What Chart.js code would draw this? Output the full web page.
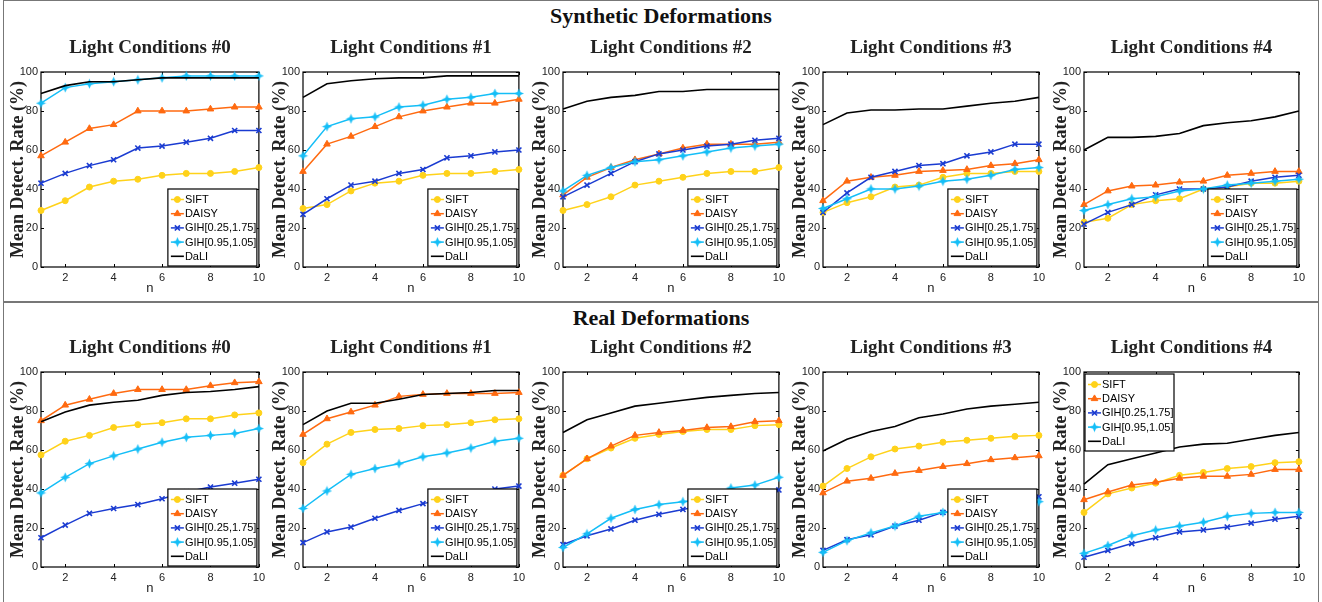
<!DOCTYPE html>
<html>
<head>
<meta charset="utf-8">
<title>Mean detection rate</title>
<script src="https://cdn.jsdelivr.net/npm/chart.js@4.4.1/dist/chart.umd.min.js"></script>
<style>
  body { margin: 0; background: #fff; }
  #page { position: relative; width: 1322px; height: 602px; overflow: hidden; }
  .frame { position: absolute; left: 3px; width: 1316px; border: 1.5px solid #777; box-sizing: border-box; }
  .section { position: absolute; left: 0; width: 1322px; text-align: center;
             font: bold 22px "Liberation Serif", "Times New Roman", serif; color: #111; }
  .panel { position: absolute; }
</style>
</head>
<body>
<div id="page">
  <div class="frame" style="top:0; height:303px; border-bottom-width:2px"></div>
  <div class="frame" style="top:301px; height:304px; border-top:none"></div>
  <div class="section" style="top:3px">Synthetic Deformations</div>
  <div class="section" style="top:305px">Real Deformations</div>
</div>
<script>
// x values and axis ticks
const nValues = [1, 2, 3, 4, 5, 6, 7, 8, 9, 10];
const xTicks = [2, 4, 6, 8, 10];
const yTicks = [0, 20, 40, 60, 80, 100];
const lightTitles = ['Light Conditions #0', 'Light Conditions #1', 'Light Conditions #2',
                     'Light Conditions #3', 'Light Conditions #4'];
const seriesNames = ['SIFT', 'DAISY', 'GIH[0.25,1.75]', 'GIH[0.95,1.05]', 'DaLI'];

// synthetic deformations, one row per light condition
const synSIFT = [
  [29, 34, 41, 44, 45, 47, 48, 48, 49, 51],
  [30, 32, 39, 43, 44, 47, 48, 48, 49, 50],
  [29, 32, 36, 42, 44, 46, 48, 49, 49, 51],
  [28, 33, 36, 41, 42, 46, 48, 48, 49, 49],
  [23, 25, 32, 34, 35, 40, 41, 43, 43, 44]
];
const synDAISY = [
  [57, 64, 71, 73, 80, 80, 80, 81, 82, 82],
  [49, 63, 67, 72, 77, 80, 82, 84, 84, 86],
  [37, 46, 51, 55, 58, 61, 63, 63, 63, 64],
  [34, 44, 46, 47, 49, 49.5, 50, 52, 53, 55],
  [32, 39, 41.5, 42, 43.5, 44, 47, 48, 49, 49]
];
const synGIHwide = [
  [43, 48, 52, 55, 61, 62, 64, 66, 70, 70],
  [27, 35, 42, 44, 48, 50, 56, 57, 59, 60],
  [36, 42, 48, 54, 58, 60, 62, 63, 65, 66],
  [28, 38, 46, 49, 52, 53, 57, 59, 63, 63],
  [22, 28, 32, 37, 40, 40, 41, 44, 46, 47]
];
const synGIHnarrow = [
  [84, 92, 94, 95, 96, 97, 98, 98, 98, 98],
  [57, 72, 76, 77, 82, 83, 86, 87, 89, 89],
  [39, 47, 51, 54, 55, 57, 59, 61, 62, 63],
  [30, 35, 40, 40, 41.5, 44, 45, 47, 50, 51],
  [29, 32, 35, 36, 39, 40, 42, 43, 44, 45]
];
const synDaLI = [
  [89, 93, 95, 95, 96, 97, 97, 97, 97, 97],
  [87, 94, 95.5, 96.5, 97, 97, 98, 98, 98, 98],
  [81, 85, 87, 88, 90, 90, 91, 91, 91, 91],
  [73, 79, 80.5, 80.5, 81, 81, 82.5, 84, 85, 87],
  [60, 66.5, 66.5, 67, 68.5, 72.5, 74, 75, 77, 80]
];

// real deformations
const realSIFT = [
  [57.5, 64.5, 67.5, 71.5, 73, 74, 76, 76, 78, 79],
  [53.5, 63, 69, 70.5, 71, 72.5, 73, 74, 75.5, 76],
  [47, 55.5, 61, 66, 68, 69.5, 70.5, 70.5, 72.5, 73],
  [41.5, 50.5, 56.5, 60.5, 62, 64, 65, 66, 67, 67.5],
  [28, 37.5, 40.5, 43, 47, 48.5, 50.5, 51.5, 53.5, 54]
];
const realDAISY = [
  [75, 83, 86, 89, 91, 91, 91, 93, 94.5, 95],
  [68, 76, 79.5, 83, 87.5, 88.5, 89, 89, 89, 89.5],
  [47, 55.5, 62, 67.5, 69, 70, 71.5, 72, 74.5, 75],
  [38, 44, 45.5, 48, 49.5, 51.5, 53, 55, 56, 57],
  [34.5, 38.5, 42, 43.5, 45.5, 46.5, 46.5, 47.5, 50, 50]
];
const realGIHwide = [
  [15, 21.5, 27.5, 30, 32, 35, 38.5, 41, 43, 45],
  [12.5, 18, 20.5, 25, 29, 32.5, 35, 37, 40, 41.5],
  [11.5, 16, 19.5, 24, 27, 29.5, 32, 35, 37, 39.5],
  [8.5, 14, 16.5, 21, 24, 28, 29, 31, 33, 36],
  [5, 8.5, 12, 15, 18, 19, 20.5, 22.5, 24.5, 26]
];
const realGIHnarrow = [
  [38, 46, 53, 57, 60.5, 64, 66.5, 67.5, 68.5, 71],
  [30, 39, 47.5, 50.5, 53, 56.5, 58.5, 61, 64.5, 66],
  [10, 17, 25, 29.5, 32, 33.5, 35, 40.5, 42, 46],
  [7.5, 13.5, 17.5, 21, 26, 28, 29, 31, 33, 33.5],
  [7, 11, 16, 19, 21, 23, 26, 27.5, 28, 28]
];
const realDaLI = [
  [74.5, 79.5, 83, 84.5, 85.5, 88, 89.5, 90, 91, 92.5],
  [73, 80, 84, 84, 86, 88.5, 89, 89.5, 90.5, 90.5],
  [69, 75.5, 79, 82.5, 84, 85.5, 87, 88, 89, 89.5],
  [59.5, 65.5, 69.5, 72, 76.5, 78.5, 81, 82.5, 83.5, 84.5],
  [42.5, 52.5, 55.5, 58.5, 61.5, 63, 63.5, 65.5, 67.5, 69]
];

const colors = ['#ffd21a', '#ff6a10', '#1a3bd1', '#14bef7', '#000000'];

// filled four-point star used for the narrow GIH series
function starSprite(color) {
  const c = document.createElement('canvas');
  c.width = c.height = 11;
  const g = c.getContext('2d');
  const cx = 5.5, cy = 5.5, r = 5, q = 1.5;
  g.fillStyle = color;
  g.beginPath();
  g.moveTo(cx, cy - r); g.lineTo(cx + q, cy - q);
  g.lineTo(cx + r, cy); g.lineTo(cx + q, cy + q);
  g.lineTo(cx, cy + r); g.lineTo(cx - q, cy + q);
  g.lineTo(cx - r, cy); g.lineTo(cx - q, cy - q);
  g.closePath(); g.fill();
  return c;
}

const pointStyles = ['circle', 'triangle', 'crossRot', starSprite(colors[3]), false];
const pointSizes = [3, 3.8, 3.6, 5, 0];

// panel geometry
const plotLefts = [41, 303, 563, 823, 1084];
const plotWidths = [218, 216, 216, 216, 215];
const padTop = 42, plotH = 195, axisW = 41, padRight = 10, canvasH = 270;

// box around the axes with inward ticks on all sides
const axesBox = {
  id: 'axesBox',
  beforeDatasetsDraw(chart) {
    const { ctx, chartArea: a, scales } = chart;
    ctx.save();
    ctx.strokeStyle = '#000';
    ctx.lineWidth = 1.2;
    ctx.strokeRect(a.left, a.top, a.right - a.left, a.bottom - a.top);
    ctx.beginPath();
    xTicks.forEach(v => {
      const x = Math.round(scales.x.getPixelForValue(v)) + 0.5;
      ctx.moveTo(x, a.bottom); ctx.lineTo(x, a.bottom - 3);
      ctx.moveTo(x, a.top); ctx.lineTo(x, a.top + 3);
    });
    yTicks.forEach(v => {
      const y = Math.round(scales.y.getPixelForValue(v)) + 0.5;
      ctx.moveTo(a.left, y); ctx.lineTo(a.left + 3, y);
      ctx.moveTo(a.right, y); ctx.lineTo(a.right - 3, y);
    });
    ctx.lineWidth = 1;
    ctx.stroke();
    ctx.restore();
  },
  afterDraw(chart, args, opts) {
    const { ctx, chartArea: a } = chart;
    ctx.save();
    ctx.fillStyle = '#222';
    ctx.font = 'bold 19px "Liberation Serif", "Times New Roman", serif';
    ctx.textAlign = 'center';
    ctx.textBaseline = 'middle';
    ctx.fillText(opts.title, (a.left + a.right) / 2, a.top - 24);
    ctx.restore();
  }
};

// legend drawn inside the plot area
const boxLegend = {
  id: 'boxLegend',
  afterDatasetsDraw(chart, args, opts) {
    const { ctx, chartArea: a } = chart;
    const w = 89, h = 77;
    const x = opts.corner === 'tl' ? a.left + 1 : a.right - w - 2;
    const y = opts.corner === 'tl' ? a.top + 2 : a.bottom - h - 1;
    ctx.save();
    ctx.fillStyle = '#fff';
    ctx.fillRect(x, y, w, h);
    ctx.strokeStyle = '#000';
    ctx.lineWidth = 1.2;
    ctx.strokeRect(x, y, w, h);
    ctx.font = '11px "Liberation Sans", Arial, sans-serif';
    ctx.textBaseline = 'middle';
    chart.data.datasets.forEach((ds, i) => {
      const cy = y + 10.5 + i * 14.2;
      ctx.strokeStyle = ds.borderColor;
      ctx.lineWidth = ds.borderWidth;
      ctx.beginPath();
      ctx.moveTo(x + 3, cy); ctx.lineTo(x + 16, cy);
      ctx.stroke();
      if (ds.pointStyle) {
        ctx.fillStyle = ds.pointBackgroundColor;
        ctx.lineWidth = ds.pointBorderWidth;
        Chart.helpers.drawPoint(ctx, {
          pointStyle: ds.pointStyle, radius: ds.pointRadius,
          rotation: 0, borderWidth: ds.pointBorderWidth
        }, x + 9.5, cy);
      }
      ctx.fillStyle = '#000';
      ctx.fillText(ds.label, x + 17, cy + 0.5);
    });
    ctx.restore();
  }
};

function makePanel(rowTop, col, rows, corner) {
  const page = document.getElementById('page');
  const holder = document.createElement('div');
  holder.className = 'panel';
  const cw = axisW + plotWidths[col] + padRight;
  holder.style.left = (plotLefts[col] - axisW) + 'px';
  holder.style.top = rowTop + 'px';
  holder.style.width = cw + 'px';
  holder.style.height = canvasH + 'px';
  const canvas = document.createElement('canvas');
  canvas.width = cw;
  canvas.height = canvasH;
  holder.appendChild(canvas);
  page.appendChild(holder);

  const datasets = rows.map((row, i) => ({
    label: seriesNames[i],
    data: nValues.map((n, k) => ({ x: n, y: row[col][k] })),
    borderColor: colors[i],
    backgroundColor: colors[i],
    pointBackgroundColor: colors[i],
    pointBorderColor: colors[i],
    borderWidth: i === 4 ? 1.6 : 1.5,
    pointStyle: pointStyles[i],
    pointRadius: pointSizes[i],
    pointBorderWidth: i === 2 ? 1.6 : 1,
    tension: 0,
    clip: 8,
    order: 4 - i
  }));

  new Chart(canvas.getContext('2d'), {
    type: 'line',
    data: { datasets: datasets },
    plugins: [axesBox, boxLegend],
    options: {
      responsive: false,
      animation: false,
      events: [],
      layout: { padding: { top: padTop, right: padRight, left: 0, bottom: 0 } },
      scales: {
        x: {
          type: 'linear', min: 1, max: 10,
          afterBuildTicks: s => { s.ticks = xTicks.map(v => ({ value: v })); },
          afterFit: s => { s.height = canvasH - padTop - plotH; },
          grid: { display: false, drawTicks: false },
          border: { display: false },
          ticks: { padding: 4, color: '#222', font: { family: '"Liberation Sans", Arial, sans-serif', size: 11 } },
          title: { display: true, text: 'n', color: '#222', padding: { top: 0, bottom: 4 },
                   font: { family: '"Liberation Sans", Arial, sans-serif', size: 13 } }
        },
        y: {
          min: 0, max: 100,
          afterBuildTicks: s => { s.ticks = yTicks.map(v => ({ value: v })); },
          afterFit: s => { s.width = axisW; },
          grid: { display: false, drawTicks: false },
          border: { display: false },
          ticks: { padding: 3, color: '#222', font: { family: '"Liberation Sans", Arial, sans-serif', size: 11 } },
          title: { display: true, text: 'Mean Detect. Rate (%)', color: '#222', padding: { top: 8, bottom: 0 },
                   font: { family: '"Liberation Serif", "Times New Roman", serif', size: 18, weight: 'bold' } }
        }
      },
      plugins: {
        legend: { display: false },
        tooltip: { enabled: false },
        axesBox: { title: lightTitles[col] },
        boxLegend: { corner: corner }
      }
    }
  });
}

const synRows = [synSIFT, synDAISY, synGIHwide, synGIHnarrow, synDaLI];
const realRows = [realSIFT, realDAISY, realGIHwide, realGIHnarrow, realDaLI];
for (let c = 0; c < 5; c++) {
  makePanel(30, c, synRows, 'br');
  makePanel(330, c, realRows, c === 4 ? 'tl' : 'br');
}
</script>
</body>
</html>
